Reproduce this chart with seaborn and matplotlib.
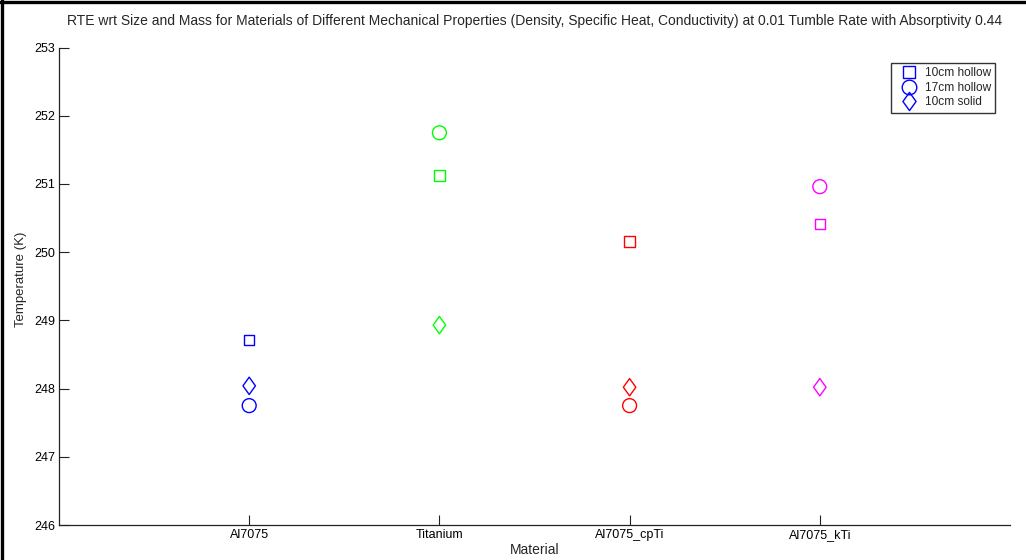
import matplotlib
matplotlib.use("Agg")
import matplotlib.pyplot as plt
from matplotlib.lines import Line2D
from matplotlib.path import Path
import seaborn as sns
import pandas as pd

materials = ["Al7075", "Titanium", "Al7075_cpTi", "Al7075_kTi"]
series_names = ["10cm hollow", "17cm hollow", "10cm solid"]
hollow10 = [248.71, 251.12, 250.16, 250.41]
hollow17 = [247.75, 251.75, 247.75, 250.96]
solid10 = [248.04, 248.93, 248.02, 248.02]
material_colors = ["#0000ff", "#00ff00", "#ff0000", "#ff00ff"]
y_ticks = [246, 247, 248, 249, 250, 251, 252, 253]

diamond = Path([(0, 1), (0.72, 0), (0, -1), (-0.72, 0), (0, 1)],
               [Path.MOVETO, Path.LINETO, Path.LINETO, Path.LINETO, Path.CLOSEPOLY])
marker_specs = {
    "10cm hollow": ("s", 7.6),
    "17cm hollow": ("o", 10.0),
    "10cm solid": (diamond, 12.5),
}

rows = []
for name, vals in zip(series_names, [hollow10, hollow17, solid10]):
    for m, v in zip(materials, vals):
        rows.append({"Material": m, "Series": name, "Temperature": v})
df = pd.DataFrame(rows)

sns.set_style("white")
plt.rcParams["font.family"] = ["Liberation Sans", "DejaVu Sans"]

fig = plt.figure(figsize=(10.26, 5.6), dpi=100)
ax = fig.add_axes([59 / 1026, 1 - 525 / 560, (1010 - 59) / 1026, (525 - 47.5) / 560])

pal = dict(zip(materials, material_colors))
for name in series_names:
    sub = df[df["Series"] == name]
    mk, ms = marker_specs[name]
    sns.scatterplot(data=sub, x="Material", y="Temperature", hue="Material",
                    palette=pal, marker=mk, s=ms ** 2, linewidth=1.0,
                    legend=False, ax=ax, zorder=3)
    coll = ax.collections[-1]
    fc = coll.get_facecolors()
    coll.set_edgecolors(fc)
    coll.set_facecolors("none")
    coll.set_linewidth(1.0)

ax.set_xlim(-1, 4)
ax.set_ylim(246, 253)
ax.set_yticks(y_ticks)
ax.set_yticklabels([str(t) for t in y_ticks])
ax.set_xticks(range(len(materials)))
ax.set_xticklabels(materials)

for s in ["top", "right"]:
    ax.spines[s].set_visible(False)
for s in ["left", "bottom"]:
    ax.spines[s].set_color("#222222")
    ax.spines[s].set_linewidth(0.9)
ax.tick_params(bottom=True, left=True, top=False, right=False)
ax.tick_params(direction="in", length=7, width=0.8, colors="#222222",
               labelsize=9.0, labelcolor="black", pad=3)
ax.grid(False)

ax.set_xlabel("Material", fontsize=10, labelpad=1)
ax.set_ylabel("Temperature (K)", fontsize=9.5)
ax.yaxis.set_label_coords(-0.0335, 0.515)
ax.set_title("RTE wrt Size and Mass for Materials of Different Mechanical Properties "
             "(Density, Specific Heat, Conductivity) at 0.01 Tumble Rate with Absorptivity 0.44",
             fontsize=10.0, pad=16)

handles = []
for name in series_names:
    mk, ms = marker_specs[name]
    handles.append(Line2D([], [], linestyle="none", marker=mk, markersize=ms * 1.05,
                          markerfacecolor="none", markeredgecolor="#0000ff",
                          markeredgewidth=1.0))
leg = fig.legend(handles, series_names, loc="upper right",
                 bbox_to_anchor=(995 / 1026, 1 - 63 / 560),
                 fontsize=8.6, frameon=True, fancybox=False, handlelength=2.3,
                 handletextpad=0.15, borderpad=0.35, labelspacing=0.22,
                 borderaxespad=0)
leg.get_frame().set_edgecolor("black")
leg.get_frame().set_linewidth(1.0)
leg.get_frame().set_facecolor("white")

fig.add_artist(Line2D([0, 1], [1 - 1.5 / 560, 1 - 1.5 / 560], color="black",
                      linewidth=2.4, transform=fig.transFigure))
fig.add_artist(Line2D([1.5 / 1026, 1.5 / 1026], [0, 1], color="black",
                      linewidth=2.4, transform=fig.transFigure))

fig.savefig("out.png", dpi=100)
